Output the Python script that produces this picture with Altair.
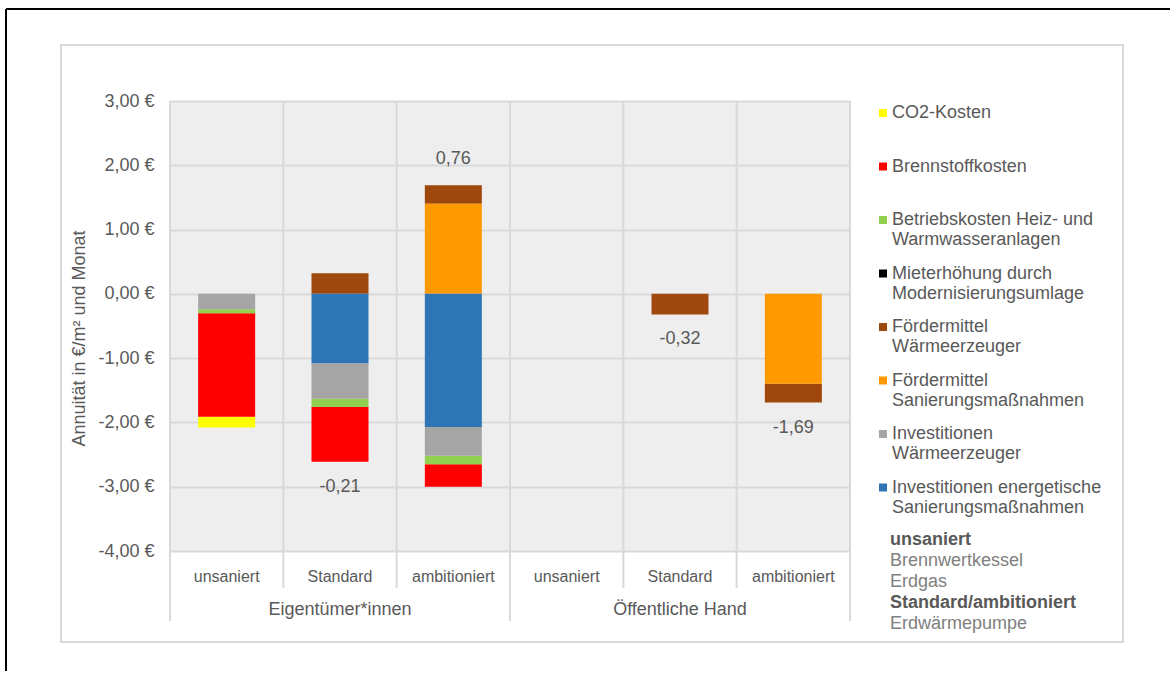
import altair as alt
import pandas as pd

# ---------------- data ----------------
series = [
    "CO2-Kosten",
    "Brennstoffkosten",
    "Betriebskosten Heiz- und|Warmwasseranlagen",
    "Mieterhöhung durch|Modernisierungsumlage",
    "Fördermittel|Wärmeerzeuger",
    "Fördermittel|Sanierungsmaßnahmen",
    "Investitionen|Wärmeerzeuger",
    "Investitionen energetische|Sanierungsmaßnahmen",
]
colors = ["#FFFF00", "#FF0000", "#92D050", "#000000", "#9E480E", "#FF9900", "#A5A5A5", "#2E75B6"]
# stacking order (first = next to zero line)
stack_order = [5, 4, 3, 6, 7, 0, 2, 1]

groups = ["Eigentümer*innen", "Öffentliche Hand"]
scenarios = ["unsaniert", "Standard", "ambitioniert"]

# values per series, in order: E-unsaniert, E-Standard, E-ambitioniert, Ö-unsaniert, Ö-Standard, Ö-ambitioniert
values = {
    "CO2-Kosten":                                        [-0.17, 0.00, 0.00, 0.00, 0.00, 0.00],
    "Brennstoffkosten":                                  [-1.61, -0.85, -0.35, 0.00, 0.00, 0.00],
    "Betriebskosten Heiz- und|Warmwasseranlagen":        [-0.06, -0.13, -0.13, 0.00, 0.00, 0.00],
    "Mieterhöhung durch|Modernisierungsumlage":          [0.00, 0.00, 0.00, 0.00, 0.00, 0.00],
    "Fördermittel|Wärmeerzeuger":                        [0.00, 0.32, 0.29, 0.00, -0.32, -0.29],
    "Fördermittel|Sanierungsmaßnahmen":                  [0.00, 0.00, 1.40, 0.00, 0.00, -1.40],
    "Investitionen|Wärmeerzeuger":                       [-0.24, -0.55, -0.45, 0.00, 0.00, 0.00],
    "Investitionen energetische|Sanierungsmaßnahmen":    [0.00, -1.08, -2.07, 0.00, 0.00, 0.00],
}

# net-difference annotations: category index, text, anchored at top (1) or bottom (-1) of the bar
annot_idx = [1, 2, 4, 5]
annot_text = ["-0,21", "0,76", "-0,32", "-1,69"]
annot_side = [-1, 1, -1, -1]

note_bold_1 = "unsaniert"
note_lines_1 = ["Brennwertkessel", "Erdgas"]
note_bold_2 = "Standard/ambitioniert"
note_lines_2 = ["Erdwärmepumpe"]

y_ticks = [3, 2, 1, 0, -1, -2, -3, -4]

# ---------------- build tables ----------------
cats = [f"{g}|{s}" for g in groups for s in scenarios]
rows = []
for si, name in enumerate(series):
    for ci, cat in enumerate(cats):
        v = values[name][ci]
        if v != 0 or name.startswith("Mieter"):
            rows.append({"cat": cat, "series": name, "value": v, "ord": stack_order[si]})
df = pd.DataFrame(rows)

pos = {c: 0.0 for c in cats}
neg = {c: 0.0 for c in cats}
for name in series:
    for ci, cat in enumerate(cats):
        v = values[name][ci]
        if v > 0:
            pos[cat] += v
        else:
            neg[cat] += v
annot = pd.DataFrame({
    "cat": [cats[i] for i in annot_idx],
    "txt": annot_text,
    "y": [pos[cats[i]] if s > 0 else neg[cats[i]] for i, s in zip(annot_idx, annot_side)],
    "side": annot_side,
})
sep = pd.DataFrame({"cat": cats, "scen": [c.split("|")[1] for c in cats]})
grp = pd.DataFrame({"cat": [f"{g}|Standard" for g in groups], "g": groups})

W, H = 680, 450
FONT = "Liberation Sans"
TXT = "#595959"
GRID = "#D9D9D9"

yscale = alt.Scale(domain=[-4, 3], nice=False)


def xs():
    return alt.Scale(domain=cats, paddingInner=0, paddingOuter=0)


# pad single-line legend labels to two lines so every legend row has the same height
legend_expr = "length(split(datum.label, '|')) > 1 ? split(datum.label, '|') : [datum.label, ' ']"
ylab_expr = "(datum.value < 0 ? '-' : '') + replace(format(abs(datum.value), '.2f'), '.', ',') + ' €'"

bars = alt.Chart(df).mark_bar(size=57).encode(
    x=alt.X("cat:N", scale=xs(), sort=cats,
            axis=alt.Axis(title=None, labelExpr="split(datum.label, '|')[1]", labelAngle=0,
                          ticks=False, domain=False, labelPadding=17, labelFontSize=16,
                          labelColor=TXT, labelFont=FONT, grid=False)),
    y=alt.Y("value:Q", scale=yscale, stack="zero",
            axis=alt.Axis(title="Annuität in €/m² und Monat", values=y_ticks,
                          labelExpr=ylab_expr,
                          ticks=False, domain=False, labelPadding=16, labelFontSize=18,
                          labelColor=TXT, labelFont=FONT, gridColor=GRID, gridWidth=2,
                          titleFont=FONT, titleFontSize=18, titleColor=TXT,
                          titleFontWeight="normal", titleX=-82, titleY=237)),
    color=alt.Color("series:N", scale=alt.Scale(domain=series, range=colors),
                    legend=alt.Legend(title=None, orient="none", legendX=704, legendY=3,
                                      symbolType="square", symbolSize=64, symbolStrokeWidth=0,
                                      labelExpr=legend_expr,
                                      labelFontSize=18, labelColor=TXT, labelFont=FONT,
                                      labelLimit=0, labelOffset=0, rowPadding=15.5, padding=0)),
    order=alt.Order("ord:Q"),
)

sep_short = alt.Chart(sep).mark_rule(color=GRID, strokeWidth=2).encode(
    x=alt.X("cat:N", scale=xs(), sort=cats, bandPosition=0, axis=None),
    y=alt.value(0), y2=alt.value(H + 37),
)
sep_long = alt.Chart(sep).transform_filter(alt.datum.scen == "unsaniert").mark_rule(
    color=GRID, strokeWidth=2).encode(
    x=alt.X("cat:N", scale=xs(), sort=cats, bandPosition=0, axis=None),
    y=alt.value(H), y2=alt.value(H + 70),
)
sep_right = alt.Chart(alt.Data(values=[{}])).mark_rule(color=GRID, strokeWidth=2).encode(
    x=alt.value(W), y=alt.value(0), y2=alt.value(H + 70))

labels_top = alt.Chart(annot).transform_filter(alt.datum.side > 0).mark_text(
    font=FONT, fontSize=18, color=TXT, dy=-26).encode(
    x=alt.X("cat:N", scale=xs(), sort=cats, axis=None),
    y=alt.Y("y:Q", scale=yscale),
    text="txt:N",
)
labels_bot = alt.Chart(annot).transform_filter(alt.datum.side < 0).mark_text(
    font=FONT, fontSize=18, color=TXT, dy=25).encode(
    x=alt.X("cat:N", scale=xs(), sort=cats, axis=None),
    y=alt.Y("y:Q", scale=yscale),
    text="txt:N",
)

group_labels = alt.Chart(grp).mark_text(font=FONT, fontSize=18, color=TXT).encode(
    x=alt.X("cat:N", scale=xs(), sort=cats, axis=None),
    y=alt.value(H + 59),
    text="g:N",
)

one = alt.Data(values=[{}])
note1 = alt.Chart(one).mark_text(font=FONT, fontSize=18, fontWeight="bold", color=TXT, align="left").encode(
    x=alt.value(720), y=alt.value(439), text=alt.value(note_bold_1))
note2 = alt.Chart(one).mark_text(font=FONT, fontSize=18, color="#808080", align="left", lineHeight=21,
                                 baseline="top").encode(
    x=alt.value(720), y=alt.value(451), text=alt.value(note_lines_1))
note3 = alt.Chart(one).mark_text(font=FONT, fontSize=18, fontWeight="bold", color=TXT, align="left").encode(
    x=alt.value(720), y=alt.value(502), text=alt.value(note_bold_2))
note4 = alt.Chart(one).mark_text(font=FONT, fontSize=18, color="#808080", align="left").encode(
    x=alt.value(720), y=alt.value(523), text=alt.value(note_lines_2[0]))

frame_gray = alt.Chart(one).mark_rect(fill=None, stroke="#D9D9D9", strokeWidth=2).encode(
    x=alt.value(-109), x2=alt.value(953), y=alt.value(-56), y2=alt.value(541))
frame_top = alt.Chart(one).mark_rule(color="#000000", strokeWidth=2).encode(
    x=alt.value(-164), x2=alt.value(1000), y=alt.value(-92))
frame_left = alt.Chart(one).mark_rule(color="#000000", strokeWidth=2).encode(
    x=alt.value(-164), y=alt.value(-92), y2=alt.value(570))

chart = alt.layer(
    frame_gray, frame_top, frame_left, sep_short, sep_long, sep_right,
    bars, labels_top, labels_bot, group_labels, note1, note2, note3, note4,
).resolve_scale(x="independent").properties(
    width=W, height=H, padding={"left": 5, "top": 8, "right": 0, "bottom": 0},
    background="white",
).configure_view(fill="#EEEEEE", stroke=None)

chart.save("out.html", embed_options={"renderer": "svg", "actions": False})
